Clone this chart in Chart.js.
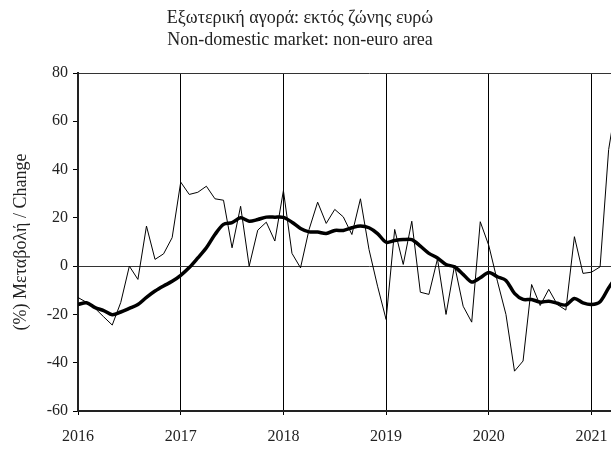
<!DOCTYPE html>
<html>
<head>
<meta charset="utf-8">
<script src="https://cdn.jsdelivr.net/npm/chart.js@4.4.0/dist/chart.umd.min.js"></script>
<style>
  html, body { margin: 0; padding: 0; background: #fff; overflow: hidden; }
  #wrap { position: relative; width: 611px; height: 452px; overflow: hidden; }
  canvas { position: absolute; left: 0; top: 0; }
  .title { position: absolute; left: 0; width: 600px; text-align: center;
           font-family: "Liberation Serif", "DejaVu Serif", serif; font-size: 18px; color: #222; }
</style>
</head>
<body>
<div id="wrap">
  <canvas id="chart" width="660" height="452"></canvas>
  <div class="title" style="top:7px">Εξωτερική αγορά: εκτός ζώνης ευρώ</div>
  <div class="title" style="top:29px">Non-domestic market: non-euro area</div>
</div>
<script>
// months from Jan 2016 to Apr 2021
const startYear = 2016;
const yearTicks = [2016, 2017, 2018, 2019, 2020, 2021];

// monthly change (thin line)
const monthly = [
  -13, -15, -17.5, -21, -24.4, -15, 0, -5.5, 16.6, 2.8, 5.1, 11.8,
  34.8, 29.7, 30.6, 33.1, 27.9, 27.3, 7.6, 24.8, 0, 14.9, 18.2, 10.4,
  31.3, 5.3, -0.7, 15.2, 26.5, 17.7, 23.5, 20.4, 13.1, 27.9, 6.9, -8.3,
  -22.1, 15.2, 0.7, 18.6, -10.8, -11.7, 3, -20, 0.3, -16.6, -23.2, 18.4,
  8.5, -6.2, -20, -43.5, -39.3, -7.6, -16.3, -9.6, -15.9, -18.2, 12.2, -3,
  -2.5, -0.3, 48.3, 70
];

// moving average (thick line)
const smoothed = [
  -15.9, -15.2, -17.2, -18.4, -20.1, -19, -17.5, -15.9, -12.9, -10.3, -8.2, -6.3,
  -3.8, -0.6, 3.4, 7.6, 13.1, 17.3, 18, 20, 18.6, 19.3, 20.3, 20.3,
  20.2, 18.2, 15.6, 14.2, 14.1, 13.5, 14.8, 14.8, 15.9, 16.6, 15.9, 13.5,
  9.9, 10.6, 11, 11, 8.3, 5.3, 3.4, 0.7, -0.3, -3.4, -6.6, -4.8,
  -2.6, -4.4, -5.9, -11.3, -13.8, -13.8, -14.9, -14.5, -15.4, -16.1, -13.4, -15.2,
  -15.9, -14.7, -9, -4
];

const toPoints = arr => arr.map((v, i) => ({ x: i, y: v }));
const serif = "'Liberation Serif', 'DejaVu Serif', serif";

new Chart(document.getElementById("chart"), {
  type: "line",
  data: {
    datasets: [
      {
        label: "monthly",
        data: toPoints(monthly),
        borderColor: "#000",
        borderWidth: 1,
        pointRadius: 0,
        tension: 0,
      },
      {
        label: "smoothed",
        data: toPoints(smoothed),
        borderColor: "#000",
        borderWidth: 3.5,
        pointRadius: 0,
        tension: 0.3,
      },
    ],
  },
  options: {
    responsive: false,
    animation: false,
    layout: { padding: { top: 73, left: 0, right: 0, bottom: 0 } },
    plugins: { legend: { display: false }, tooltip: { enabled: false } },
    scales: {
      x: {
        type: "linear",
        min: 0,
        max: 68,
        afterBuildTicks: (scale) => {
          scale.ticks = yearTicks.map(y => ({ value: (y - startYear) * 12 }));
        },
        afterFit: (scale) => { scale.height = 41; },
        ticks: {
          callback: (v) => startYear + v / 12,
          font: { family: serif, size: 16 },
          color: "#222",
          padding: 12,
          maxRotation: 0,
        },
        grid: {
          color: "#000",
          lineWidth: 1,
          tickLength: 4,
        },
        border: { color: "#222", width: 2 },
      },
      y: {
        min: -60,
        max: 80,
        afterFit: (scale) => { scale.width = 78; },
        ticks: {
          stepSize: 20,
          font: { family: serif, size: 16 },
          color: "#222",
          padding: 5,
        },
        grid: {
          color: (c) => (c.tick && (c.tick.value === 0 || c.tick.value === 80)) ? "#333" : "rgba(0,0,0,0)",
          tickColor: "#000",
          lineWidth: 1,
          tickLength: 5,
        },
        border: { color: "#222", width: 2 },
        title: {
          display: true,
          text: "(%) Μεταβολή / Change",
          font: { family: serif, size: 18 },
          color: "#222",
          padding: { top: 10, bottom: 4 },
        },
      },
    },
  },
});
</script>
</body>
</html>
